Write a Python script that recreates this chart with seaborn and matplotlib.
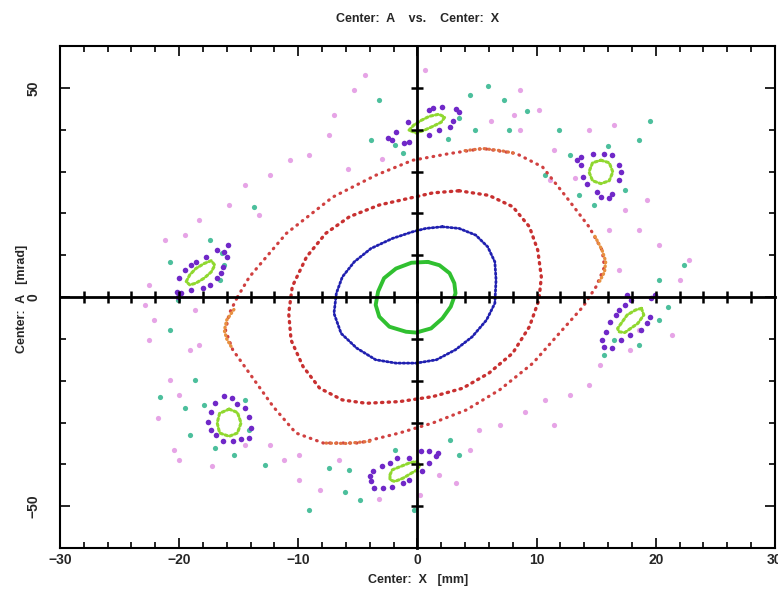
import numpy as np
import pandas as pd
import matplotlib
matplotlib.use("Agg")
import matplotlib.pyplot as plt
from matplotlib.ticker import MultipleLocator
import seaborn as sns

# --- data: X [mm], A [mrad] ---
# core orbit (green)
core_x = [0.87, 1.85, 2.7, 3.1, 3.2, 2.8, 2.1, 1.15, -0.1, -0.95, -2.35, -3.2, -3.5, -3.3, -2.8, -1.8, -0.5]
core_a = [8.4, 7.6, 5.7, 3.3, 0.9, -2.3, -5.1, -7.5, -8.5, -8.3, -7.1, -4.7, -1.9, 1.3, 4.5, 6.8, 8.2]

# second orbit (blue)
blue_x = [2.1, 3.5, 4.9, 5.9, 6.5, 6.6, 6.5, 5.8, 4.6, 3.2, 1.6, -0.1, -1.8, -3.5, -5.1, -6.4,
          -7.0, -6.8, -6.3, -5.3, -3.9, -2.1, -0.4, 0.7]
blue_a = [16.8, 16.4, 14.8, 12.0, 8.4, 4.1, -1.5, -5.5, -9.5, -12.6, -15.0, -15.8, -15.8, -15.0, -12.2, -8.7,
          -3.9, 0.9, 4.8, 8.4, 11.6, 14.0, 15.6, 16.4]

# third orbit (red)
red_x = [3.5, 6.0, 8.0, 9.4, 10.1, 10.4, 10.2, 9.4, 8.0, 6.0, 3.8, 1.3, -1.5, -4.3, -6.3, -8.2,
         -9.6, -10.6, -10.8, -10.5, -9.3, -7.7, -5.7, -3.2, -0.4, 1.3]
red_a = [25.4, 24.3, 21.6, 16.8, 11.2, 4.8, -0.7, -7.1, -13.4, -18.2, -21.8, -23.8, -25.0, -25.4, -24.6, -21.8,
         -16.6, -10.3, -3.9, 2.5, 9.6, 15.2, 19.2, 22.0, 23.8, 24.9]

# outermost orbit
outer_x = [-15.1, -14.1, -11.0, -7.1, -3.5, -0.4, 2.7, 5.5, 8.3, 10.5, 12.5, 14.4, 15.5, 15.7, 15.0,
           13.9, 11.9, 9.7, 6.9, 4.1, 1.3, -1.5, -4.9, -7.9, -10.2, -12.1, -14.1, -15.5, -16.1, -15.8]
outer_a = [0.0, 4.8, 15.2, 23.9, 29.1, 32.7, 34.3, 35.5, 34.3, 31.1, 23.9, 16.8, 11.2, 7.2, 2.5,
           -2.3, -8.7, -15.8, -22.2, -27.0, -30.1, -32.5, -34.9, -34.9, -32.5, -26.2, -18.2, -12.6, -8.0, -4.0]
orange_r_x = [14.9, 15.5, 15.8, 15.7, 15.3]
orange_r_a = [14.5, 11.2, 8.5, 6.0, 3.8]
orange_l_x = [-15.4, -16.0, -16.2, -16.0, -15.6]
orange_l_a = [-3.0, -5.5, -8.0, -10.0, -12.0]
orange_t_x = [4.0, 5.5, 7.0, 8.3]
orange_t_a = [35.0, 35.5, 35.0, 34.3]
orange_b_x = [-4.0, -6.0, -8.0]
orange_b_a = [-34.5, -35.0, -34.9]

# island cores (light green), one list per island
isl1_x = [-0.7, -0.3, 0.3, 1.0, 1.8, 2.3, 2.0, 1.3, 0.6, -0.1]
isl1_a = [39.9, 41.1, 42.2, 43.2, 43.7, 43.0, 41.8, 40.8, 39.9, 39.2]
isl2_x = [15.4, 16.1, 16.4, 16.1, 15.4, 14.7, 14.4, 14.7]
isl2_a = [32.7, 32.1, 29.9, 27.8, 27.1, 27.8, 29.9, 32.1]
isl3_x = [18.8, 18.3, 17.6, 17.2, 16.8, 16.9, 17.4, 17.9, 18.5, 19.0]
isl3_a = [-2.7, -3.1, -4.3, -5.9, -7.5, -8.3, -8.5, -7.5, -6.3, -4.3]
isl4_x = [-2.3, -2.1, -1.4, -0.7, -0.1, 0.2, 0.0, -0.5, -1.2, -1.9, -2.3]
isl4_a = [-42.5, -41.3, -40.5, -39.7, -39.3, -40.1, -41.3, -42.1, -43.3, -44.1, -43.7]
isl5_x = [-15.8, -15.1, -14.8, -15.1, -15.8, -16.6, -16.8, -16.6]
isl5_a = [-26.8, -27.6, -30.1, -32.5, -33.3, -32.5, -30.1, -27.8]
isl6_x = [-19.4, -19.1, -18.6, -17.9, -17.3, -17.0, -17.3, -17.9, -18.6, -19.1]
isl6_a = [3.7, 5.3, 6.8, 8.0, 8.7, 7.6, 6.0, 4.5, 3.3, 2.9]

# purple points circling the islands
purple_x = [1.0, 1.3, 2.1, 3.2, 3.5, 3.0, 2.7, 1.8, 1.0, -0.7, -1.1, -2.1, -2.5, -1.8, -0.8,
            13.7, 13.4, 13.7, 13.9, 14.2, 15.1, 15.4, 16.1, 16.3, 16.9, 17.1, 16.9, 16.3, 15.7, 14.7,
            17.6, 17.9, 17.4, 16.9, 16.7, 16.2, 15.8, 15.5, 15.7, 16.3, 17.1, 17.8, 18.8, 19.3, 19.5, 19.6, 19.9,
            -4.0, -3.9, -3.6, -2.9, -2.1, -1.2, -0.7, 0.4, 1.0, 1.6, 1.7, 1.0, 0.3, -0.7, -1.7, -2.3, -3.0, -3.7,
            -16.2, -17.0, -17.3, -17.6, -17.3, -16.9, -16.3, -15.5, -14.8, -14.1, -14.0, -14.1, -14.5, -15.1, -15.6,
            -15.9, -16.2, -16.0, -16.3, -16.5, -16.8, -17.4, -18.0, -19.0, -19.8, -20.1, -20.2, -20.0, -19.5,
            -19.0, -18.6, -17.7, -16.8]
purple_a = [44.6, 45.3, 45.4, 45.0, 44.2, 42.2, 40.6, 39.9, 38.7, 37.1, 36.8, 37.5, 37.9, 39.5, 41.8,
            33.5, 32.7, 31.5, 28.7, 27.1, 25.1, 23.9, 23.6, 24.7, 27.9, 29.9, 31.5, 33.9, 34.3, 34.3,
            0.5, -0.7, -1.9, -3.1, -4.3, -5.9, -8.3, -10.3, -11.9, -12.2, -10.3, -9.1, -7.9, -6.3, -4.7, -0.3, 0.5,
            -42.9, -44.1, -45.7, -45.7, -45.3, -44.5, -43.7, -41.7, -39.7, -38.1, -37.3, -36.9, -36.9, -38.5, -38.5, -39.7, -40.5, -41.7,
            -23.6, -25.4, -27.4, -29.8, -31.7, -32.9, -34.5, -34.5, -34.0, -33.7, -31.3, -28.6, -26.6, -25.5, -24.2,
            12.4, 10.8, 9.6, 7.2, 5.7, 4.5, 2.9, 2.1, 1.7, 0.9, 0.1, 1.3, 4.5, 6.4,
            7.6, 8.4, 9.6, 11.2]

# chaotic layer points
teal_x = [5.9, 4.4, 7.3, 3.5, 4.8, -3.2, -3.9, -1.9, 7.7, 11.9, 12.8, 18.6, 13.6, 17.4, 14.8, 19.5, 10.7,
          20.3, 22.4, 18.6, 20.3, 16.5, 15.7, -5.7, -7.4, -6.1, 2.7, 3.5, -0.3, -3.6, -1.9, -9.1,
          -18.7, -17.9, -14.5, -14.1, -17.0, -19.5, -19.1, -15.4, -20.8, -17.4, -16.4, -16.6, -20.1, -16.2, -13.7, -20.8,
          -1.2, 2.6, 9.2, 16.0, 21.0, -4.8, -12.8, -21.6]
teal_a = [50.4, 48.2, 47.0, 42.7, 39.9, 47.0, 37.5, 36.3, 39.9, 39.9, 33.9, 37.5, 24.3, 25.5, 22.0, 42.2, 29.1,
          4.1, 7.6, -11.5, -5.5, -10.3, -13.8, -41.3, -40.8, -46.5, -34.1, -37.7, -50.8, -45.6, -36.5, -50.8,
          -19.8, -25.8, -24.6, -31.7, -36.0, -26.5, -32.9, -37.7, 8.4, 13.6, 10.5, 4.1, -0.7, 7.6, 21.5, -7.9,
          34.5, 37.8, 44.5, 36.0, -2.5, -48.5, -40.2, -24.0]
pink_x = [-4.4, -5.3, 0.6, 8.6, 10.2, 8.1, -7.0, -7.4, -9.1, -10.7, -12.4, -14.5, -15.8, -18.3, -13.3,
          14.4, 16.5, 11.5, 17.4, 18.6, 20.3, 22.8, 19.3, 22.0, 15.3, 14.4, 12.8, 10.7, 11.5, 17.8, 18.6,
          5.2, 4.4, 6.9, 1.8, 0.2, -3.2, -8.2, -9.9, -11.2, -12.4, -9.9, -20.8, -20.0, -20.4, -14.5, -20.0,
          -22.9, -22.1, -22.5, -21.2, -19.5, -18.7, -18.3, -19.1, -22.5, 11.1, 8.6, 16.1, 16.9,
          -5.8, -3.0, 6.2, 13.2, 21.4, 9.0, -6.6, -17.2, -21.8, 3.2]
pink_a = [53.0, 49.4, 54.2, 49.4, 44.6, 43.4, 43.4, 38.7, 33.9, 32.7, 29.1, 26.7, 22.0, 18.4, 19.6,
          39.9, 41.1, 35.1, 20.8, 16.0, 12.4, 8.8, 23.2, 4.1, -16.2, -21.0, -23.4, -24.6, -30.5, -12.6, -7.9,
          -31.7, -36.5, -30.5, -42.5, -47.3, -48.4, -46.1, -43.7, -38.9, -35.3, -37.7, -19.8, -23.4, -36.5, -35.3, -38.9,
          -1.9, -5.5, 2.9, 13.6, 14.8, -3.1, -11.5, -12.6, -10.3, 27.9, 39.9, 16.0, 6.4,
          30.5, 33.0, 42.0, 28.5, -9.0, -27.5, -39.0, -40.5, -29.0, -44.5]

x_ticks = [-30, -20, -10, 0, 10, 20, 30]
y_ticks = [-50, 0, 50]

sns.set_theme(style="ticks")
plt.rcParams['font.family'] = ['Liberation Sans', 'DejaVu Sans']

fig = plt.figure(figsize=(7.78, 5.98), dpi=100)
ax = fig.add_axes([0.077, 0.0836, 0.919, 0.8394])


def closed(xs, ys):
    return pd.DataFrame({"x": list(xs) + [xs[0]], "a": list(ys) + [ys[0]]})


def ring(xs, ys, color, lw, dash, close=True):
    d = closed(xs, ys) if close else pd.DataFrame({"x": xs, "a": ys})
    sns.lineplot(data=d, x="x", y="a", sort=False, estimator=None, color=color,
                 lw=lw, ax=ax, legend=False)
    ln = ax.lines[-1]
    if dash is not None:
        ln.set_dashes(dash)
        ln.set_dash_capstyle("round")


# chaotic scatter first
sns.scatterplot(x=pink_x, y=pink_a, color="#e6a4e6", s=14, linewidth=0, ax=ax)
sns.scatterplot(x=teal_x, y=teal_a, color="#4cbf9c", s=14, linewidth=0, ax=ax)

ring(outer_x, outer_a, "#d04040", 2.3, (0.2, 1.9))
ring(orange_r_x, orange_r_a, "#e89040", 2.4, (0.2, 1.0), close=False)
ring(orange_l_x, orange_l_a, "#e89040", 2.4, (0.2, 1.0), close=False)
ring(orange_t_x, orange_t_a, "#e07040", 2.3, (0.2, 1.3), close=False)
ring(orange_b_x, orange_b_a, "#e07040", 2.3, (0.2, 1.3), close=False)
ring(red_x, red_a, "#c83030", 2.4, (0.4, 1.6))
ring(blue_x, blue_a, "#2020b0", 2.0, (0.6, 0.9))
ring(core_x, core_a, "#30c030", 2.8, None)

sns.scatterplot(x=purple_x, y=purple_a, color="#7028c8", s=16, linewidth=0, ax=ax)
for ix, ia in [(isl1_x, isl1_a), (isl2_x, isl2_a), (isl3_x, isl3_a),
               (isl4_x, isl4_a), (isl5_x, isl5_a), (isl6_x, isl6_a)]:
    ring(ix, ia, "#90d830", 2.2, (0.8, 0.9))

ax.set_xlim(-30, 30)
ax.set_ylim(-60, 60)
ax.set_xticks(x_ticks)
ax.set_yticks(y_ticks)
ax.xaxis.set_minor_locator(MultipleLocator(2))
ax.yaxis.set_minor_locator(MultipleLocator(10))
ax.tick_params(which="both", direction="in", top=True, right=True, color="black", width=1.2)
ax.tick_params(which="major", length=7)
ax.tick_params(which="minor", length=4)
ax.tick_params(axis="y", pad=14)
ax.set_xticklabels([str(t).replace("-", "\u2212") for t in x_ticks], fontsize=10, fontweight="bold")
ax.set_yticklabels([str(t).replace("-", "\u2212") for t in y_ticks], fontsize=10, fontweight="bold",
                   rotation=90, va="center")
ax.set_xlabel("")
ax.set_ylabel("")
for sp in ax.spines.values():
    sp.set_visible(True)
    sp.set_color("black")
    sp.set_linewidth(1.5)

# center cross with its own ticks
ax2 = fig.add_axes(ax.get_position())
ax2.patch.set_visible(False)
ax2.set_xlim(-30, 30)
ax2.set_ylim(-60, 60)
ax2.spines["left"].set_position(("data", 0))
ax2.spines["bottom"].set_position(("data", 0))
ax2.spines["top"].set_visible(False)
ax2.spines["right"].set_visible(False)
for k in ("left", "bottom"):
    ax2.spines[k].set_color("black")
    ax2.spines[k].set_linewidth(2)
ax2.set_xticks(np.arange(-28, 30, 2))
ax2.set_yticks([-50, -40, -30, -20, -10, 10, 20, 30, 40, 50])
ax2.tick_params(direction="inout", length=8, width=1.8, color="black",
                labelbottom=False, labelleft=False)

txt = dict(fontsize=9, fontweight="bold", ha="center", va="center")
fig.text(0.537, 0.968, "Center:  A    vs.    Center:  X", **txt)
fig.text(0.537, 0.030, "Center:  X   [mm]", **txt)
fig.text(0.028, 0.50, "Center:  A   [mrad]", rotation=90, **txt)

fig.savefig("out.png", dpi=100)
